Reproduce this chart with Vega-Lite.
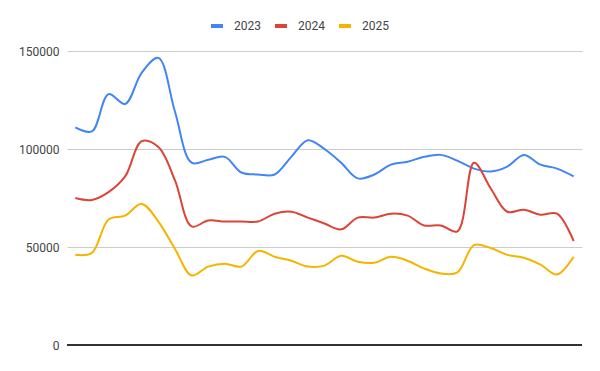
{
  "$schema": "https://vega.github.io/schema/vega-lite/v6.json",
  "width": 515,
  "height": 294,
  "autosize": {"type": "none"},
  "padding": {"left": 67, "top": 51, "right": 18, "bottom": 26},
  "background": "#ffffff",
  "config": {
    "view": {"stroke": null},
    "font": "Roboto",
    "axis": {"labelFont": "Roboto", "labelFontSize": 12, "labelColor": "#444444"},
    "legend": {"labelFont": "Roboto", "labelFontSize": 12, "labelColor": "#444444"}
  },
  "data": {
    "values": [
      {"day": 1, "year": "2023", "value": 111000},
      {"day": 2, "year": "2023", "value": 109000},
      {"day": 3, "year": "2023", "value": 128000},
      {"day": 4, "year": "2023", "value": 123000},
      {"day": 5, "year": "2023", "value": 139000},
      {"day": 6, "year": "2023", "value": 146500},
      {"day": 7, "year": "2023", "value": 119000},
      {"day": 8, "year": "2023", "value": 93000},
      {"day": 9, "year": "2023", "value": 94500},
      {"day": 10, "year": "2023", "value": 96000},
      {"day": 11, "year": "2023", "value": 88000},
      {"day": 12, "year": "2023", "value": 87000},
      {"day": 13, "year": "2023", "value": 87000},
      {"day": 14, "year": "2023", "value": 96000},
      {"day": 15, "year": "2023", "value": 104500},
      {"day": 16, "year": "2023", "value": 100000},
      {"day": 17, "year": "2023", "value": 93000},
      {"day": 18, "year": "2023", "value": 85000},
      {"day": 19, "year": "2023", "value": 87000},
      {"day": 20, "year": "2023", "value": 92000},
      {"day": 21, "year": "2023", "value": 93500},
      {"day": 22, "year": "2023", "value": 96000},
      {"day": 23, "year": "2023", "value": 97000},
      {"day": 24, "year": "2023", "value": 94000},
      {"day": 25, "year": "2023", "value": 90000},
      {"day": 26, "year": "2023", "value": 88500},
      {"day": 27, "year": "2023", "value": 91000},
      {"day": 28, "year": "2023", "value": 97000},
      {"day": 29, "year": "2023", "value": 92000},
      {"day": 30, "year": "2023", "value": 90000},
      {"day": 31, "year": "2023", "value": 86000},
      {"day": 1, "year": "2024", "value": 75000},
      {"day": 2, "year": "2024", "value": 74000},
      {"day": 3, "year": "2024", "value": 78000},
      {"day": 4, "year": "2024", "value": 86000},
      {"day": 5, "year": "2024", "value": 104000},
      {"day": 6, "year": "2024", "value": 101000},
      {"day": 7, "year": "2024", "value": 84000},
      {"day": 8, "year": "2024", "value": 60500},
      {"day": 9, "year": "2024", "value": 63500},
      {"day": 10, "year": "2024", "value": 63000},
      {"day": 11, "year": "2024", "value": 63000},
      {"day": 12, "year": "2024", "value": 63000},
      {"day": 13, "year": "2024", "value": 67000},
      {"day": 14, "year": "2024", "value": 68000},
      {"day": 15, "year": "2024", "value": 65000},
      {"day": 16, "year": "2024", "value": 62000},
      {"day": 17, "year": "2024", "value": 59000},
      {"day": 18, "year": "2024", "value": 65000},
      {"day": 19, "year": "2024", "value": 65000},
      {"day": 20, "year": "2024", "value": 67000},
      {"day": 21, "year": "2024", "value": 66000},
      {"day": 22, "year": "2024", "value": 61000},
      {"day": 23, "year": "2024", "value": 61000},
      {"day": 24, "year": "2024", "value": 58000},
      {"day": 25, "year": "2024", "value": 93000},
      {"day": 26, "year": "2024", "value": 80000},
      {"day": 27, "year": "2024", "value": 68000},
      {"day": 28, "year": "2024", "value": 69000},
      {"day": 29, "year": "2024", "value": 66500},
      {"day": 30, "year": "2024", "value": 67000},
      {"day": 31, "year": "2024", "value": 53000},
      {"day": 1, "year": "2025", "value": 46000},
      {"day": 2, "year": "2025", "value": 47000},
      {"day": 3, "year": "2025", "value": 64000},
      {"day": 4, "year": "2025", "value": 66000},
      {"day": 5, "year": "2025", "value": 72000},
      {"day": 6, "year": "2025", "value": 63000},
      {"day": 7, "year": "2025", "value": 49000},
      {"day": 8, "year": "2025", "value": 35500},
      {"day": 9, "year": "2025", "value": 40000},
      {"day": 10, "year": "2025", "value": 41500},
      {"day": 11, "year": "2025", "value": 40000},
      {"day": 12, "year": "2025", "value": 48000},
      {"day": 13, "year": "2025", "value": 45000},
      {"day": 14, "year": "2025", "value": 43000},
      {"day": 15, "year": "2025", "value": 40000},
      {"day": 16, "year": "2025", "value": 40500},
      {"day": 17, "year": "2025", "value": 45500},
      {"day": 18, "year": "2025", "value": 42500},
      {"day": 19, "year": "2025", "value": 42000},
      {"day": 20, "year": "2025", "value": 45000},
      {"day": 21, "year": "2025", "value": 43000},
      {"day": 22, "year": "2025", "value": 39000},
      {"day": 23, "year": "2025", "value": 36500},
      {"day": 24, "year": "2025", "value": 37000},
      {"day": 25, "year": "2025", "value": 51000},
      {"day": 26, "year": "2025", "value": 49500},
      {"day": 27, "year": "2025", "value": 46000},
      {"day": 28, "year": "2025", "value": 44500},
      {"day": 29, "year": "2025", "value": 41000},
      {"day": 30, "year": "2025", "value": 36000},
      {"day": 31, "year": "2025", "value": 45000}
    ]
  },
  "layer": [
    {
      "mark": {"type": "line", "interpolate": "catmull-rom", "strokeWidth": 2},
      "encoding": {
        "x": {"field": "day", "type": "ordinal", "scale": {"type": "point", "padding": 0.5}, "axis": null},
        "y": {
          "field": "value", "type": "quantitative",
          "scale": {"domain": [0, 150000], "nice": false},
          "axis": {"title": null, "values": [0, 50000, 100000, 150000], "format": "d", "domain": false, "ticks": false, "labelPadding": 8, "gridColor": "#cccccc", "gridWidth": 1}
        },
        "color": {
          "field": "year", "type": "nominal",
          "scale": {"domain": ["2023", "2024", "2025"], "range": ["#4285F4", "#DB4437", "#F4B400"]},
          "legend": {
            "title": null, "orient": "none", "direction": "horizontal",
            "legendX": 142, "legendY": -33,
            "symbolType": "stroke",
            "symbolSize": 144, "symbolStrokeWidth": 4,
            "labelOffset": 9, "columnPadding": 6
          }
        }
      }
    },
    {
      "mark": {"type": "rule", "color": "#333333", "strokeWidth": 1},
      "encoding": {"y": {"datum": 0, "type": "quantitative"}}
    }
  ]
}
